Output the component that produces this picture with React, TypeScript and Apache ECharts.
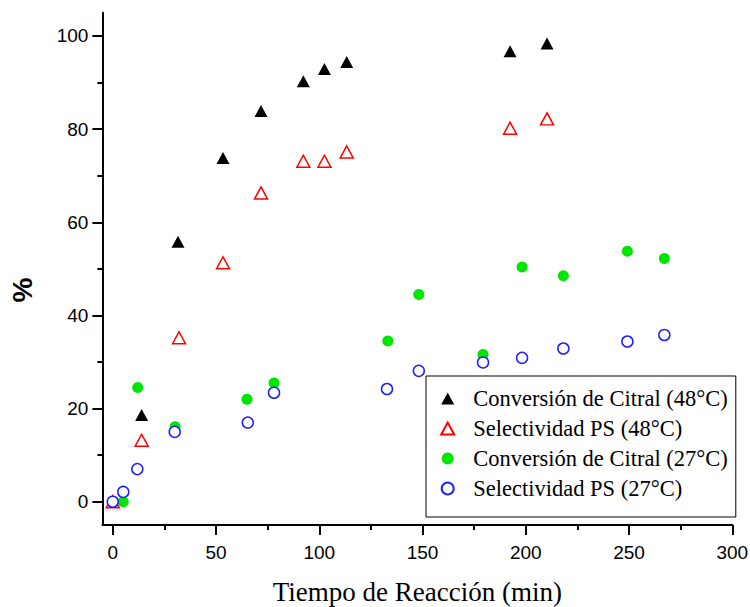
import React, { useEffect, useRef } from "react";
import * as echarts from "echarts";

// Conversión de Citral (48°C)
const time48Conv = [14.0, 31.6, 53.4, 71.8, 92.3, 102.5, 113.3, 192.4, 210.3];
const conv48 = [18.6, 55.8, 73.8, 83.9, 90.3, 92.9, 94.4, 96.7, 98.4];
// Selectividad PS (48°C)
const time48Sel = [0, 14.0, 32.1, 53.4, 71.8, 92.3, 102.5, 113.3, 192.4, 210.3];
const sel48 = [0, 13.2, 35.2, 51.3, 66.3, 73.1, 73.1, 75.1, 80.2, 82.2];
// Conversión de Citral (27°C)
const time27Conv = [5.1, 12.1, 30.2, 65.0, 78.1, 133.2, 148.2, 179.3, 198.2, 218.2, 249.2, 267.1];
const conv27 = [0, 24.5, 16.1, 22.0, 25.5, 34.5, 44.5, 31.6, 50.4, 48.5, 53.8, 52.2];
// Selectividad PS (27°C)
const time27Sel = [0, 5.1, 11.9, 30.0, 65.4, 78.1, 132.8, 148.2, 179.3, 198.2, 218.2, 249.2, 267.1];
const sel27 = [0, 2.1, 7.0, 15.0, 17.0, 23.4, 24.2, 28.1, 29.9, 30.9, 32.9, 34.4, 35.8];

const xTicks = [0, 50, 100, 150, 200, 250, 300];
const yTicks = [0, 20, 40, 60, 80, 100];

const seriesNames = [
  "Conversión de Citral (48°C)",
  "Selectividad PS (48°C)",
  "Conversión de Citral (27°C)",
  "Selectividad PS (27°C)",
];

const SANS = "'Liberation Sans', Arial, sans-serif";
const SERIF = "'Liberation Serif', 'Times New Roman', serif";

const zip = (xs: number[], ys: number[]) => xs.map((x, i) => [x, ys[i]]);

export default function App() {
  const ref = useRef<HTMLDivElement>(null);
  useEffect(() => {
    if (!ref.current) return;
    const chart = echarts.init(ref.current, null, { renderer: "svg" });
    const axisCommon = {
      type: "value" as const,
      splitLine: { show: false },
      axisLine: { show: true, onZero: false, lineStyle: { color: "#000", width: 2 } },
      axisTick: { show: true, length: 10, lineStyle: { color: "#000", width: 2 } },
      minorTick: { show: true, splitNumber: 2, length: 5, lineStyle: { color: "#000", width: 2 } },
      minorSplitLine: { show: false },
    };
    chart.setOption({
      animation: false,
      backgroundColor: "#fff",
      grid: {
        left: 102.4,
        right: 17.7,
        top: 12.7,
        bottom: 82,
        containLabel: false,
        outerBoundsMode: "none",
      },
      xAxis: {
        ...axisCommon,
        min: -5,
        max: 300,
        axisTick: { ...axisCommon.axisTick, customValues: xTicks },
        axisLabel: {
          customValues: xTicks,
          margin: 18,
          color: "#000",
          fontSize: 19,
          fontFamily: SANS,
        },
        name: "Tiempo de Reacción (min)",
        nameLocation: "middle",
        nameGap: 53.5,
        nameTextStyle: {
          color: "#000",
          fontSize: 27,
          fontFamily: SERIF,
        },
      },
      yAxis: {
        ...axisCommon,
        min: -5,
        max: 105,
        axisTick: { ...axisCommon.axisTick, customValues: yTicks },
        axisLabel: {
          customValues: yTicks,
          margin: 14,
          color: "#000",
          fontSize: 19,
          fontFamily: SANS,
        },
      },
      legend: {
        orient: "vertical",
        left: 426,
        top: 376,
        padding: [11, 8, 17, 14.2],
        borderColor: "#000",
        borderWidth: 1,
        backgroundColor: "#fff",
        itemWidth: 13,
        itemHeight: 12,
        itemGap: 7,
        data: seriesNames,
        textStyle: {
          color: "#000",
          fontSize: 22.5,
          lineHeight: 22.5,
          fontFamily: SERIF,
          padding: [0, 0, 0, 14],
        },
      },
      graphic: [
        {
          type: "text",
          x: 22.8,
          y: 290,
          rotation: Math.PI / 2,
          style: {
            text: "%",
            fill: "#000",
            fontSize: 28,
            fontWeight: "bold",
            fontFamily: SANS,
            align: "center",
            verticalAlign: "middle",
          },
        },
      ],
      series: [
        {
          name: seriesNames[0],
          type: "scatter",
          symbol: "triangle",
          symbolSize: [13, 12],
          itemStyle: { color: "#000", opacity: 1 },
          data: zip(time48Conv, conv48),
        },
        {
          name: seriesNames[1],
          type: "scatter",
          symbol: "triangle",
          symbolSize: [13, 12],
          itemStyle: { color: "#fff", borderColor: "#ff0000", borderWidth: 1.5, opacity: 1 },
          data: zip(time48Sel, sel48),
        },
        {
          name: seriesNames[2],
          type: "scatter",
          symbol: "circle",
          symbolSize: 11,
          itemStyle: { color: "#00e600", opacity: 1 },
          data: zip(time27Conv, conv27),
        },
        {
          name: seriesNames[3],
          type: "scatter",
          symbol: "circle",
          symbolSize: 11,
          itemStyle: { color: "#fff", borderColor: "#2020ff", borderWidth: 1.5, opacity: 1 },
          data: zip(time27Sel, sel27),
        },
      ],
    });
    return () => chart.dispose();
  }, []);
  return (
    <div
      ref={ref}
      style={{ position: "fixed", left: 0, top: 0, width: 750, height: 607 }}
    />
  );
}
